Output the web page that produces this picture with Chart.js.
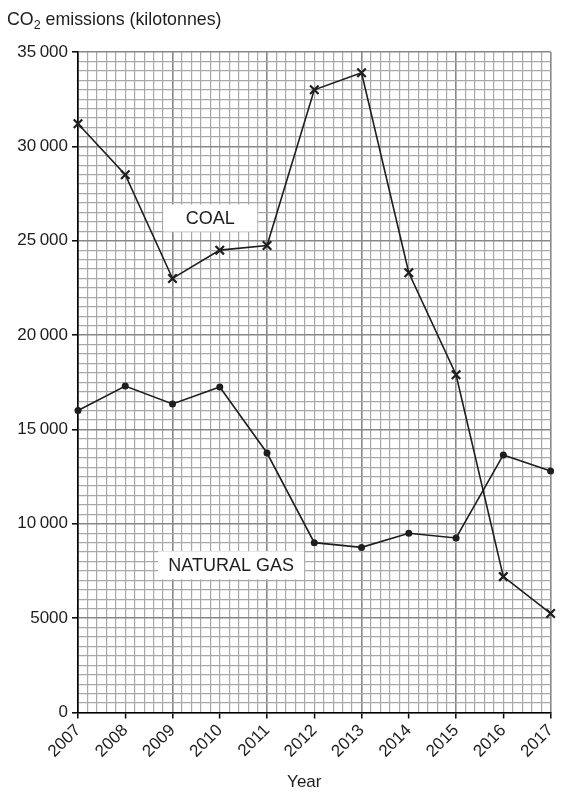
<!DOCTYPE html>
<html><head><meta charset="utf-8">
<script src="https://cdn.jsdelivr.net/npm/chart.js@4/dist/chart.umd.min.js"></script>
<style>html,body{margin:0;padding:0;background:#fff}#wrap{width:567px;height:792px;position:relative}</style>
</head><body><div id="wrap"><canvas id="c"></canvas></div>
<script>
const years = [2007, 2008, 2009, 2010, 2011, 2012, 2013, 2014, 2015, 2016, 2017];
const coal = [31200, 28500, 23000, 24500, 24750, 33000, 33900, 23300, 17900, 7200, 5250];
const naturalGas = [16000, 17300, 16350, 17250, 13750, 9000, 8750, 9500, 9250, 13650, 12800];
const yTickLabels = ['0', '5000', '10\u2009000', '15\u2009000', '20\u2009000', '25\u2009000', '30\u2009000', '35\u2009000'];
const seriesNames = ['COAL', 'NATURAL GAS'];
const yTitleParts = ['CO', '2', ' emissions (kilotonnes)'];
const xTitle = 'Year';

const FONT = "'Liberation Sans', Arial, sans-serif";
const INK = '#1e1e1e';
const isInt = v => Math.abs(v - Math.round(v)) < 1e-6;

const annotations = {
  id: 'annotations',
  beforeDatasetsDraw(chart) {
    const {ctx, scales: {x, y}} = chart;
    const items = [
      {text: seriesNames[0], xv: 2009.8, yv: 26200, w: 94, h: 27},
      {text: seriesNames[1], xv: 2010.24, yv: 7800, w: 146, h: 28}
    ];
    ctx.save();
    items.forEach(it => {
      const px = x.getPixelForValue(it.xv), py = y.getPixelForValue(it.yv);
      ctx.fillStyle = '#fff';
      ctx.fillRect(px - it.w / 2, py - it.h / 2, it.w, it.h);
      ctx.fillStyle = INK;
      ctx.font = '18px ' + FONT;
      ctx.textAlign = 'center';
      ctx.textBaseline = 'middle';
      ctx.fillText(it.text, px, py + 1);
    });
    ctx.restore();
  },
  afterDraw(chart) {
    const {ctx, chartArea} = chart;
    ctx.save();
    ctx.fillStyle = INK;
    ctx.textBaseline = 'alphabetic';
    ctx.textAlign = 'left';
    // y-axis title with real subscript
    let tx = 7;
    const base = 25;
    ctx.font = '17.8px ' + FONT;
    ctx.fillText(yTitleParts[0], tx, base);
    tx += ctx.measureText(yTitleParts[0]).width;
    ctx.font = '12.5px ' + FONT;
    ctx.fillText(yTitleParts[1], tx, base + 4);
    tx += ctx.measureText(yTitleParts[1]).width;
    ctx.font = '17.8px ' + FONT;
    ctx.fillText(yTitleParts[2], tx, base);
    // x-axis title
    ctx.font = '17px ' + FONT;
    ctx.textAlign = 'center';
    ctx.fillText(xTitle, (chartArea.left + chartArea.right) / 2 - 10, 787);
    ctx.restore();
  }
};

const toPts = arr => arr.map((v, i) => ({x: years[i], y: v}));
const MINOR = '#a8a8a8', MAJOR = '#888888';

new Chart(document.getElementById('c'), {
  type: 'line',
  data: {
    datasets: [
      {label: seriesNames[0], data: toPts(coal), borderColor: INK, borderWidth: 1.6,
       pointStyle: 'crossRot', pointRadius: 6, pointBorderWidth: 2.2, pointBorderColor: INK,
       pointBackgroundColor: INK, tension: 0, clip: false},
      {label: seriesNames[1], data: toPts(naturalGas), borderColor: INK, borderWidth: 1.6,
       pointStyle: 'circle', pointRadius: 3.5, pointBorderWidth: 0, pointBackgroundColor: INK,
       tension: 0, clip: false}
    ]
  },
  options: {
    responsive: true, maintainAspectRatio: false, animation: false,
    layout: {padding: {left: 7, right: 13, top: 52, bottom: 0}},
    plugins: {legend: {display: false}, tooltip: {enabled: false}, title: {display: false}},
    scales: {
      x: {
        type: 'linear', min: years[0], max: years[years.length - 1],
        grid: {
          color: c => isInt(c.tick.value) && Math.round(c.tick.value - years[0]) % 2 === 0 ? MAJOR : MINOR,
          lineWidth: c => isInt(c.tick.value) && Math.round(c.tick.value - years[0]) % 2 === 0 ? 1.6 : 1.2,
          tickColor: c => isInt(c.tick.value) ? '#000' : 'rgba(0,0,0,0)',
          tickLength: 6, tickWidth: 1.5
        },
        border: {color: '#000', width: 1.6},
        ticks: {
          stepSize: 0.2, autoSkip: false, maxRotation: 45, minRotation: 45, padding: 2,
          color: INK, font: {family: FONT, size: 17},
          callback: v => isInt(v) ? String(years[Math.round(v) - years[0]]) : ''
        },
        title: {display: false},
        afterFit: s => { s.height = 79.5; }
      },
      y: {
        min: 0, max: 35000,
        grid: {
          color: c => c.tick.value % 5000 === 0 ? MAJOR : MINOR,
          lineWidth: c => c.tick.value % 5000 === 0 ? 1.6 : 1.2,
          tickColor: c => c.tick.value % 5000 === 0 ? '#000' : 'rgba(0,0,0,0)',
          tickLength: 6, tickWidth: 1.5
        },
        border: {color: '#000', width: 1.6},
        ticks: {
          stepSize: 500, autoSkip: false, padding: 4, color: INK, font: {family: FONT, size: 17},
          callback: v => v % 5000 === 0 ? yTickLabels[v / 5000] : ''
        },
        afterFit: s => { s.width = 71; }
      }
    }
  },
  plugins: [annotations]
});
</script>
</body></html>
